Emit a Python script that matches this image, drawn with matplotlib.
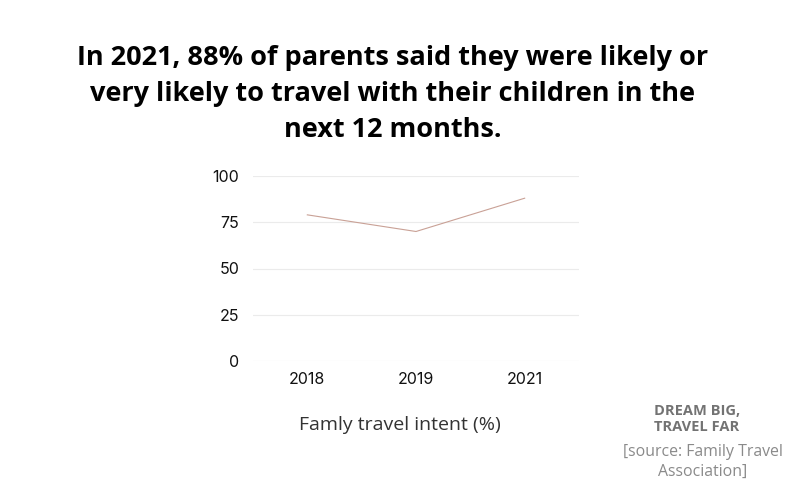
import matplotlib
matplotlib.use("Agg")
import matplotlib.pyplot as plt

# data
years = ["2018", "2019", "2021"]
intent = [79, 70, 88]
yticks = [0, 25, 50, 75, 100]

title = ("In 2021, 88% of parents said they were likely or\n"
         "very likely to travel with their children in the\n"
         "next 12 months.")

fig = plt.figure(figsize=(8, 5), dpi=100)
fig.patch.set_facecolor("white")

# axes box: x 253..579, y 176..361 (pixels from top)
ax = fig.add_axes([253/800, 1-361/500, (579-253)/800, (361-176)/500])
ax.plot(range(len(years)), intent, color="#c9a196", linewidth=0.8)
ax.set_xlim(-0.5, len(years)-0.5)
ax.set_ylim(0, 100)
ax.set_xticks(range(len(years)))
ax.set_xticklabels(years, fontfamily="Inter", fontsize=11.5, color="#111111")
ax.set_yticks(yticks)
ax.set_yticklabels([str(t) for t in yticks], fontfamily="Inter", fontsize=11.5, color="#111111")
ax.tick_params(length=0, pad=8)
ax.tick_params(axis="y", pad=10)
ax.grid(axis="y", color="#ebebeb", linewidth=0.8)
for s in ax.spines.values():
    s.set_visible(False)

fig.text(0.5, 1-425/500, "Famly travel intent (%)", ha="center", va="center",
         fontfamily="Open Sans", fontsize=14, color="#333333")

fig.text(393/800, 1-94/500, title, ha="center", va="center", fontfamily="Open Sans",
         fontweight="bold", fontsize=19.5, linespacing=1.48, color="black")

fig.text(697/800, 1-419/500, "DREAM BIG,\nTRAVEL FAR", ha="center", va="center",
         fontfamily="Open Sans", fontweight="bold", fontsize=10.5, color="#737373",
         linespacing=1.25)
fig.text(703/800, 1-462/500, "[source: Family Travel\nAssociation]", ha="center", va="center",
         fontfamily="Open Sans", fontsize=11.4, color="#8a8a8a", linespacing=1.35)

fig.savefig("out.png", dpi=100)
